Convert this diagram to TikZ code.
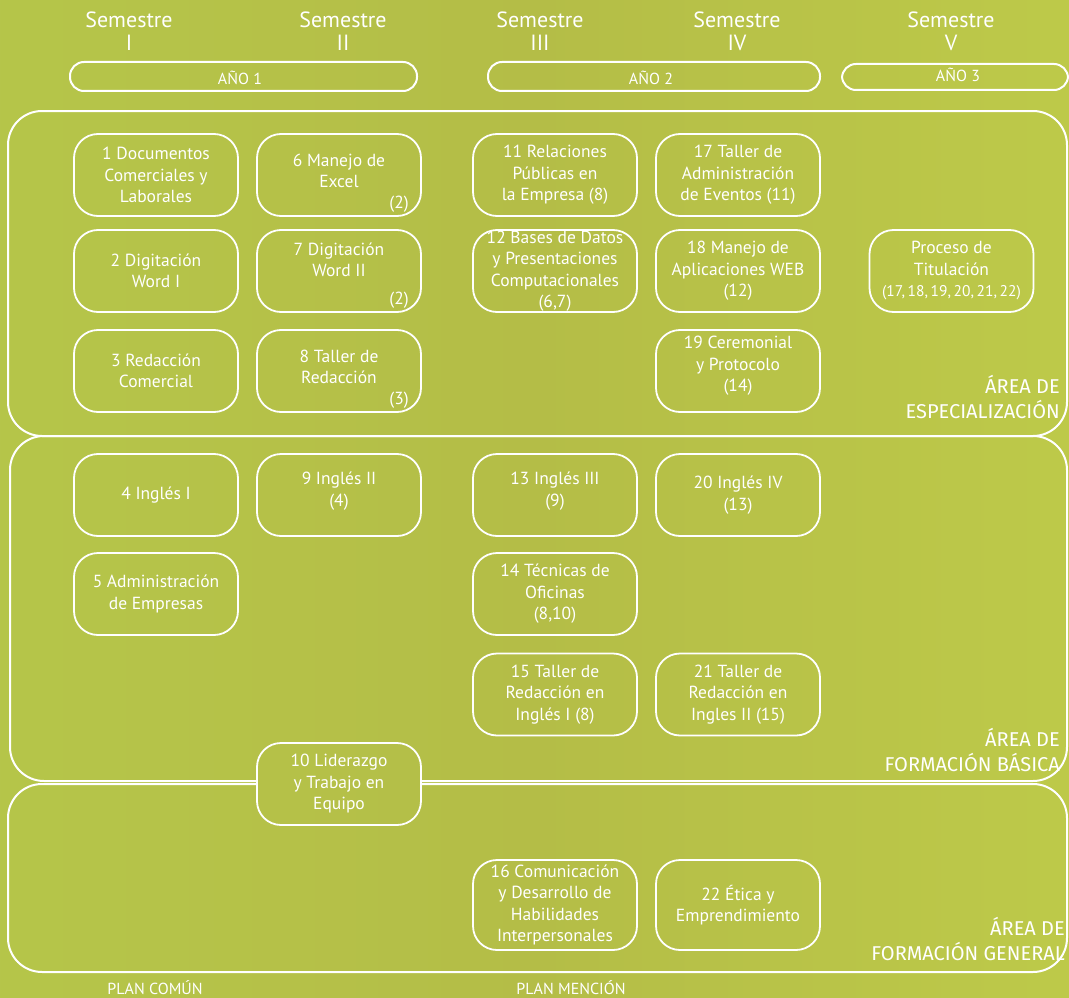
\documentclass[tikz,border=0pt]{standalone}
\usepackage{fontspec}
\setmainfont{PT Sans}
\newfontfamily\areafont{Fira Sans}
\definecolor{bgl}{RGB}{183,206,76}
\definecolor{bgm}{RGB}{180,189,71}
\definecolor{bgr}{RGB}{198,214,75}
\pgfdeclarehorizontalshading{bgshade}{100bp}{color(0bp)=(bgl); color(50bp)=(bgm); color(100bp)=(bgr)}
\tikzset{
  course/.style={draw=white, line width=1.8pt, rounded corners=24pt, minimum width=164pt, minimum height=82pt, align=center, text=white, font=\fontsize{17.5}{21.5}\selectfont, inner sep=0pt},
  ctext/.style={align=center, text=white, font=\fontsize{17.5}{21.5}\selectfont, inner sep=0pt},
  note/.style={text=white, font=\fontsize{17.5}{18}\selectfont, inner sep=0pt, anchor=south east},
  area/.style={draw=white, line width=2pt, rounded corners=34pt},
  yearbox/.style={draw=white, line width=2pt, rounded corners=14pt},
  yearlbl/.style={text=white, font=\fontsize{16}{18}\selectfont, inner sep=0pt},
  semlbl/.style={text=white, align=center, font=\fontsize{22}{23}\selectfont, inner sep=0pt},
  arealbl/.style={text=white, align=right, anchor=east, font=\areafont\fontsize{20}{25}\selectfont, inner sep=0pt},
  planlbl/.style={text=white, font=\fontsize{16}{17}\selectfont, inner sep=0pt},
}
\begin{document}
\begin{tikzpicture}[x=1pt,y=-1pt]
\useasboundingbox (0,0) rectangle (1069,998);
\shade[shading=bgshade] (0,0) rectangle (1069,998);

% semester headers
\node[semlbl] (s1) at (129,31) {Semestre\\I};
\node[semlbl] (s2) at (343,31) {Semestre\\II};
\node[semlbl] (s3) at (540,31) {Semestre\\III};
\node[semlbl] (s4) at (737,31) {Semestre\\IV};
\node[semlbl] (s5) at (951,31) {Semestre\\V};

% year boxes
\draw[yearbox] (70,62) rectangle (417,91);
\node[yearlbl] (y1) at (240,78) {AÑO 1};
\draw[yearbox] (488,62) rectangle (820,91);
\node[yearlbl] (y2) at (651,78) {AÑO 2};
\draw[yearbox] (842,64) rectangle (1068,90);
\node[yearlbl] (y3) at (958,75) {AÑO 3};

% area boxes
\draw[area] (8,111) rectangle (1067,436);
\draw[area] (10,436) rectangle (1067,781);
\draw[area] (8,784) rectangle (1067,972);

\node[arealbl] (a1) at (1060,397) {ÁREA DE\\ESPECIALIZACIÓN};
\node[arealbl] (a2) at (1060,750) {ÁREA DE\\FORMACIÓN BÁSICA};
\node[arealbl] (a3) at (1065,939) {ÁREA DE\\FORMACIÓN GENERAL};

% especializacion
\node[course] (c1) at (156,175) {1 Documentos\\Comerciales y\\Laborales};
\node[course] (c2) at (156,271) {2 Digitación\\Word I};
\node[course] (c3) at (156,371) {3 Redacción\\Comercial};
\node[course] (c6) at (339,175) {};
\node[ctext] (t6) at (339,171) {6 Manejo de\\Excel};
\node[note] (n6) at (409,213) {(2)};
\node[course] (c7) at (339,271) {};
\node[ctext] (t7) at (339,260) {7 Digitación\\Word II};
\node[note] (n7) at (409,309) {(2)};
\node[course] (c8) at (339,371) {};
\node[ctext] (t8) at (339,367) {8 Taller de\\Redacción};
\node[note] (n8) at (409,409) {(3)};
\node[course] (c11) at (555,175) {11 Relaciones\\Públicas en\\la Empresa (8)};
\node[course] (c12) at (555,271) {12 Bases de Datos\\y Presentaciones\\Computacionales\\(6,7)};
\node[course] (c17) at (738,175) {17 Taller de\\Administración\\de Eventos (11)};
\node[course] (c18) at (738,271) {18 Manejo de\\Aplicaciones WEB\\(12)};
\node[course] (c19) at (738,371) {};
\node[ctext] (t19) at (738,366) {19 Ceremonial\\y Protocolo\\(14)};
\node[course] (ct) at (951.5,271) {Proceso de\\Titulación\\{\fontsize{15.5}{21.5}\selectfont(17,\,18,\,19,\,20,\,21,\,22)}};

% formacion basica
\node[course] (c4) at (156,495) {4 Inglés I};
\node[course] (c5) at (156,594) {5 Administración\\de Empresas};
\node[course] (c9) at (339,495) {};
\node[ctext] (t9) at (339,491) {9 Inglés II\\(4)};
\node[course] (c13) at (555,495) {};
\node[ctext] (t13) at (555,491) {13 Inglés III\\(9)};
\node[course] (c14) at (555,594) {14 Técnicas de\\Oficinas\\(8,10)};
\node[course] (c15) at (555,694.5) {15 Taller de\\Redacción en\\Inglés I (8)};
\node[course] (c20) at (738,495) {20 Inglés IV\\(13)};
\node[course] (c21) at (738,694.5) {21 Taller de\\Redacción en\\Ingles II (15)};

% box 10 over boundary
\begin{scope}
\clip[rounded corners=24pt] (257,742) rectangle (421,824);
\shade[shading=bgshade] (0,0) rectangle (1069,998);
\end{scope}
\node[course] (c10) at (339,784) {10 Liderazgo\\y Trabajo en\\Equipo};

% formacion general
\node[course, minimum height=90pt] (c16) at (555,905) {16 Comunicación\\y Desarrollo de\\Habilidades\\Interpersonales};
\node[course, minimum height=90pt] (c22) at (738,905) {22 Ética y\\Emprendimiento};

% plan labels
\node[planlbl] (p1) at (155,988) {PLAN COMÚN};
\node[planlbl] (p2) at (571,988) {PLAN MENCIÓN};
\end{tikzpicture}
\end{document}
